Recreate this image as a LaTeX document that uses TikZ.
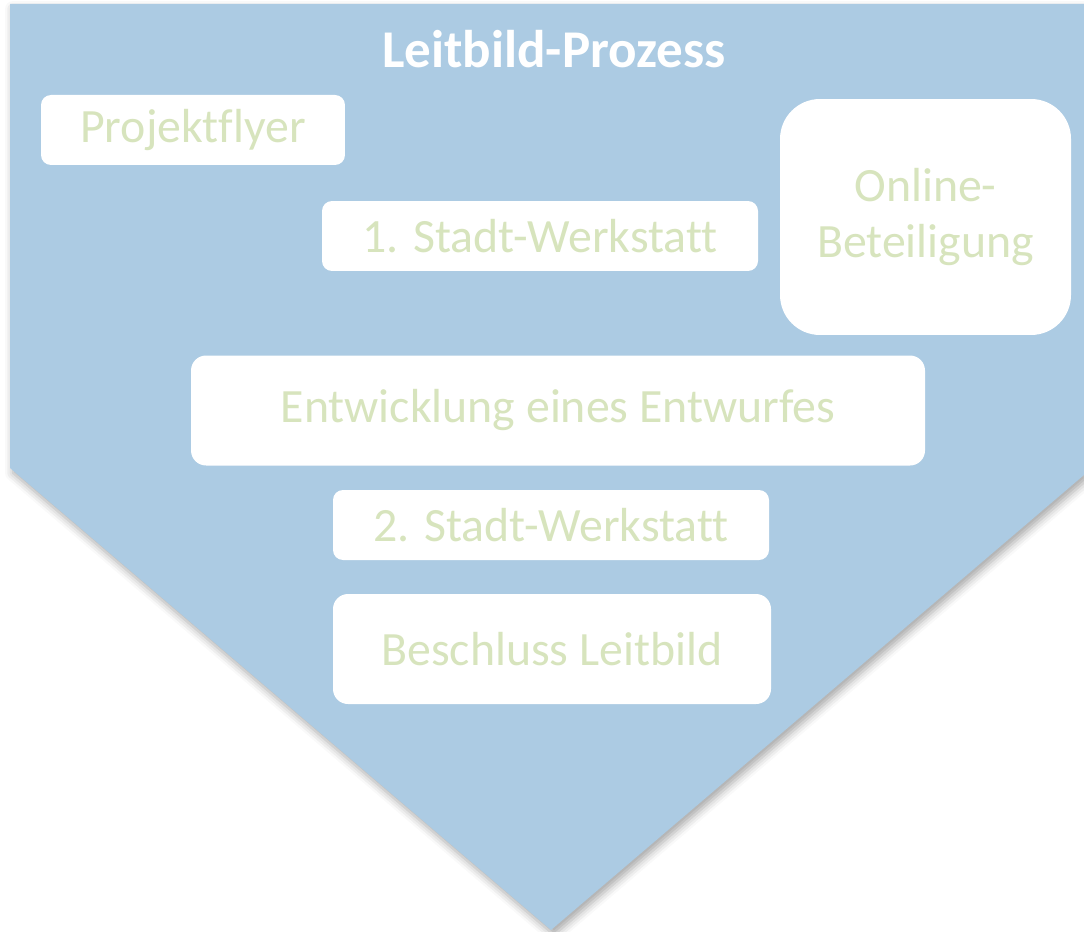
\documentclass[tikz,border=0pt]{standalone}
\usepackage{fontspec}
\setmainfont{Carlito}[Ligatures=NoCommon]
\usetikzlibrary{shadows.blur}
\definecolor{chevblue}{RGB}{172,203,227}
\definecolor{stepgreen}{RGB}{215,228,189}

\begin{document}
\begin{tikzpicture}[scale=0.1,
        stepbox/.style={fill=white, text=stepgreen, rounded corners=1mm, minimum height=7mm,
            font=\fontsize{13.6}{16.2}\selectfont},
        bigbox/.style={stepbox, rounded corners=1.5mm, minimum height=11mm},
        headline/.style={text=white, font=\fontsize{15.1}{18}\selectfont\bfseries}]
        \tikzstyle{every node}+=[inner sep=0pt]
        \useasboundingbox (0,0) rectangle (108.4,-93.1);
        % chevron background
        \fill [chevblue, blur shadow={shadow xshift=0.3mm, shadow yshift=-0.5mm, shadow blur radius=0.8mm, shadow opacity=35}]
            (1.0,-0.4) -- (108.4,-0.4) -- (108.4,-47.5) -- (55.1,-93.0) -- (1.0,-46.8) -- cycle;
        \node [headline] (title) at (55.4,-4.9) {Leitbild-Prozess};
        % steps
        \node [stepbox, minimum width=30.4mm] (flyer) at (19.3,-13.0) {Projektflyer};
        \node [stepbox, minimum width=43.6mm] (werk1) at (54.0,-23.6) {1. Stadt-Werkstatt};
        \node [stepbox, rounded corners=4mm, minimum width=29.1mm, minimum height=23.6mm, align=center]
            (online) at (92.55,-21.7) {Online-\\Beteiligung};
        \node [bigbox, minimum width=73.4mm] (entwurf) at (55.8,-41.05) {Entwicklung eines Entwurfes};
        \node [stepbox, minimum width=43.6mm] (werk2) at (55.1,-52.5) {2. Stadt-Werkstatt};
        \node [bigbox, minimum width=43.8mm] (beschluss) at (55.2,-64.9) {Beschluss Leitbild};
\end{tikzpicture}
\end{document}
